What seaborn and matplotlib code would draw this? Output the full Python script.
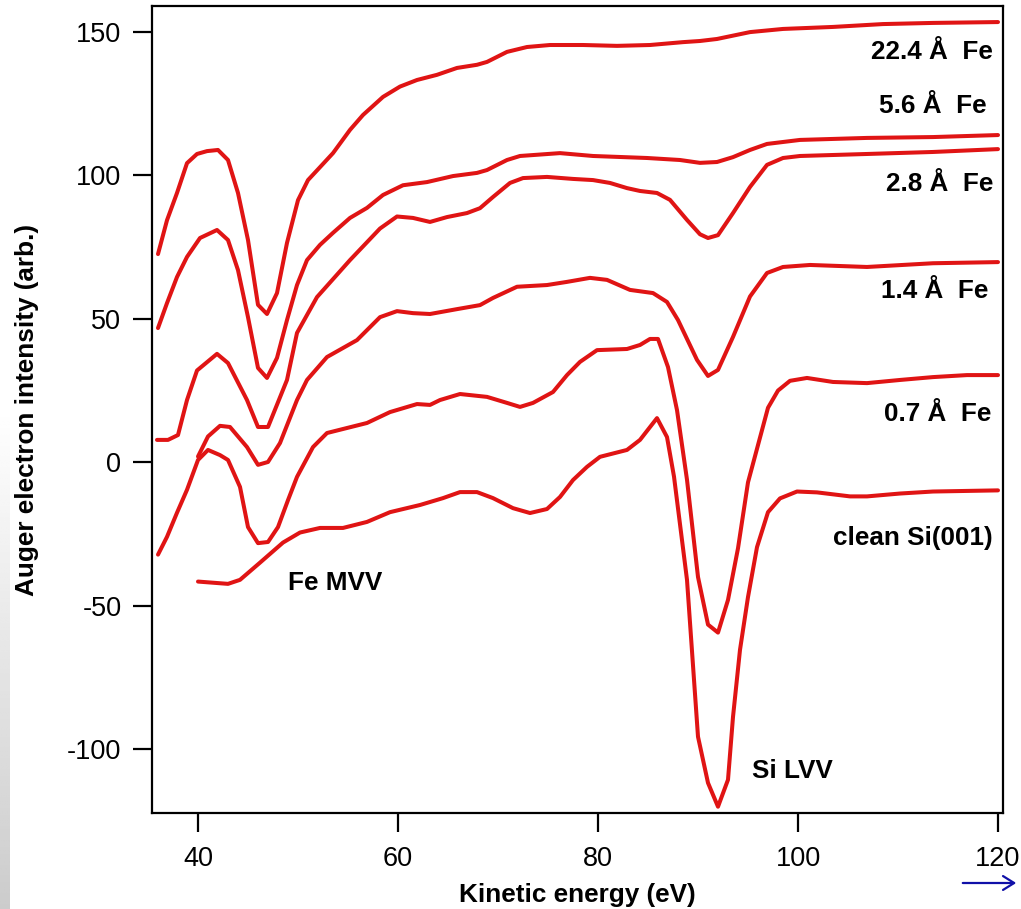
import numpy as np
import pandas as pd
import matplotlib
matplotlib.use("Agg")
import matplotlib.pyplot as plt
import seaborn as sns

# Auger spectra of Fe films on Si(001), vertically offset for clarity
fe224_x = [36.0, 36.9, 37.9, 38.9, 39.9, 40.9, 42.0, 43.0, 44.0, 45.0, 46.0, 46.9, 47.9, 48.9,
           50.0, 51.0, 52.2, 53.5, 55.2, 56.5, 58.5, 60.2, 61.9, 63.9, 65.9, 67.9, 68.9, 70.9,
           72.9, 75.2, 78.5, 81.9, 85.2, 88.5, 90.2, 91.9, 95.2, 98.5, 103.5, 108.5, 113.5, 120.0]
fe224_y = [72.6, 84.4, 93.9, 104.3, 107.5, 108.5, 108.9, 105.4, 93.9, 77.5, 54.9, 51.7, 59.0, 76.5,
           91.4, 98.4, 102.9, 107.8, 115.9, 121.1, 127.4, 131.0, 133.3, 135.1, 137.5, 138.6, 139.6, 143.1,
           144.8, 145.5, 145.5, 145.2, 145.5, 146.5, 146.9, 147.6, 150.0, 151.1, 151.8, 152.8, 153.2, 153.5]

fe56_x = [36.0, 36.9, 37.9, 38.9, 40.2, 41.9, 43.0, 44.0, 45.0, 46.0, 46.9, 47.9, 48.9, 49.9,
          50.9, 52.2, 53.5, 55.2, 56.9, 58.5, 60.5, 62.9, 65.5, 67.9, 68.9, 70.9, 72.2, 76.2,
          79.5, 84.9, 88.2, 90.2, 91.9, 93.5, 95.2, 96.9, 100.2, 106.9, 113.5, 120.0]
fe56_y = [46.8, 55.5, 64.6, 71.6, 78.2, 81.0, 77.5, 67.0, 50.6, 32.9, 29.4, 36.4, 49.6, 61.8,
          70.5, 75.8, 80.0, 85.2, 88.7, 93.2, 96.6, 97.7, 99.8, 100.9, 101.9, 105.4, 106.8, 107.8,
          106.8, 106.1, 105.4, 104.4, 104.7, 106.4, 108.9, 111.0, 112.4, 113.1, 113.4, 114.1]

fe28_x = [35.9, 37.0, 38.0, 38.9, 39.9, 41.9, 43.0, 44.9, 46.0, 47.0, 48.9, 49.9, 51.9, 55.2,
          58.2, 59.9, 61.5, 63.2, 64.9, 66.9, 68.2, 69.5, 71.2, 72.5, 74.9, 77.5, 79.5, 81.2,
          82.9, 84.2, 85.9, 87.2, 88.9, 90.2, 91.0, 92.0, 93.5, 95.2, 96.9, 98.5, 100.2, 106.9,
          113.5, 120.0]
fe28_y = [7.8, 7.8, 9.5, 21.7, 32.0, 37.8, 34.6, 21.7, 12.3, 12.3, 28.7, 45.1, 57.6, 70.5,
          81.5, 85.7, 85.2, 83.8, 85.5, 86.9, 88.6, 92.5, 97.4, 99.1, 99.5, 98.8, 98.4, 97.4,
          95.6, 94.6, 93.9, 91.5, 84.5, 79.5, 78.2, 79.2, 86.9, 96.0, 103.7, 106.1, 106.8, 107.5,
          108.2, 109.2]

fe14_x = [40.0, 41.0, 42.2, 43.2, 44.9, 46.0, 47.0, 48.2, 49.9, 50.9, 52.9, 55.9, 58.2, 59.9,
          61.5, 63.2, 65.9, 68.2, 69.5, 71.9, 74.9, 76.9, 79.2, 80.9, 83.2, 85.5, 86.9, 88.0,
          89.9, 91.0, 92.0, 93.5, 95.2, 96.9, 98.5, 101.2, 106.9, 113.5, 120.0]
fe14_y = [2.0, 9.0, 12.7, 12.3, 5.3, -0.9, 0.1, 6.7, 21.7, 28.7, 36.7, 42.6, 50.6, 52.7,
          52.0, 51.7, 53.4, 54.8, 57.3, 61.2, 61.8, 62.9, 64.3, 63.6, 60.1, 59.0, 55.9, 49.6,
          35.7, 30.1, 32.2, 43.7, 57.8, 66.0, 68.1, 68.8, 68.1, 69.4, 69.8]

fe07_x = [36.0, 36.9, 37.9, 38.9, 40.0, 41.0, 42.2, 43.0, 44.2, 45.0, 46.0, 47.0, 48.0, 49.0,
          49.9, 51.5, 52.9, 56.9, 59.2, 61.9, 63.2, 64.2, 66.2, 68.9, 70.9, 72.2, 73.5, 75.5,
          76.9, 78.2, 79.9, 82.9, 84.2, 85.2, 86.0, 87.0, 87.9, 88.9, 90.0, 91.0, 92.0, 93.0,
          94.0, 95.0, 96.0, 97.0, 98.0, 99.2, 100.9, 103.5, 106.9, 110.2, 113.5, 116.9, 120.0]
fe07_y = [-32.2, -26.0, -17.6, -9.6, 0.8, 4.3, 2.5, 0.8, -8.6, -22.6, -28.2, -27.8, -22.6, -13.2,
          -5.1, 5.3, 10.2, 13.7, 17.5, 20.3, 20.0, 21.7, 23.8, 22.8, 20.7, 19.3, 20.7, 24.5,
          30.4, 35.0, 39.1, 39.5, 40.9, 43.0, 43.0, 33.2, 18.2, -6.1, -40.0, -56.6, -59.4, -48.0,
          -30.0, -7.0, 6.0, 19.0, 25.0, 28.4, 29.4, 28.0, 27.6, 28.7, 29.7, 30.4, 30.4]

clean_x = [40.0, 43.0, 44.2, 46.2, 48.5, 50.2, 52.2, 54.5, 56.9, 59.2, 62.2, 64.5, 66.2, 67.9,
           69.5, 71.5, 73.2, 74.9, 76.2, 77.5, 78.9, 80.2, 82.9, 84.2, 85.9, 86.9, 87.6, 88.9,
           90.0, 91.0, 92.0, 93.0, 93.5, 94.2, 95.0, 95.9, 97.0, 98.2, 99.9, 101.9, 105.2, 106.9,
           110.2, 113.5, 120.0]
clean_y = [-41.6, -42.4, -41.0, -35.0, -28.0, -24.5, -22.9, -22.9, -20.8, -17.4, -14.9, -12.5, -10.4, -10.4,
           -12.5, -16.0, -17.7, -16.3, -12.1, -6.2, -1.6, 1.9, 4.3, 7.8, 15.4, 8.8, -5.0, -41.0,
           -95.7, -111.8, -120.1, -110.7, -88.8, -65.4, -47.0, -29.6, -17.4, -12.6, -10.2, -10.5, -11.9, -11.9,
           -10.9, -10.2, -9.8]

series_names = ["22.4 Å  Fe", "5.6 Å  Fe", "2.8 Å  Fe", "1.4 Å  Fe", "0.7 Å  Fe", "clean Si(001)"]
series_x = [fe224_x, fe56_x, fe28_x, fe14_x, fe07_x, clean_x]
series_y = [fe224_y, fe56_y, fe28_y, fe14_y, fe07_y, clean_y]

# label anchors (right edge, vertical centre) in data units
label_x = [119.5, 118.9, 119.5, 119.0, 119.3, 119.5]
label_y = [142.9, 124.2, 97.0, 59.7, 16.8, -26.4]

x_ticks = [40, 60, 80, 100, 120]
y_ticks = [-100, -50, 0, 50, 100, 150]

frames = []
for name, xs, ys in zip(series_names, series_x, series_y):
    frames.append(pd.DataFrame({"energy": xs, "intensity": ys, "film": name}))
df = pd.concat(frames, ignore_index=True)

sns.set_style("ticks")
plt.rcParams["font.family"] = ["Liberation Sans", "DejaVu Sans"]
plt.rcParams["axes.unicode_minus"] = False
plt.rcParams["text.color"] = "black"
plt.rcParams["axes.labelcolor"] = "black"
plt.rcParams["xtick.color"] = "black"
plt.rcParams["ytick.color"] = "black"

fig = plt.figure(figsize=(10.21, 9.09), dpi=100)
ax = fig.add_axes([152 / 1021, 1 - 813 / 909, (1003 - 152) / 1021, (813 - 6) / 909])

red = "#e01414"
sns.lineplot(data=df, x="energy", y="intensity", units="film", estimator=None,
             sort=False, color=red, linewidth=2.9, ax=ax, legend=False)

ax.set_xlim(35.4, 120.5)
ax.set_ylim(-122.3, 159.1)
ax.set_xticks(x_ticks)
ax.set_yticks(y_ticks)
ax.tick_params(axis="both", direction="out", length=14, width=1.6, labelsize=19.5,
               colors="black")
ax.tick_params(axis="x", pad=10)
ax.tick_params(axis="y", pad=8)
for side in ["left", "right", "top", "bottom"]:
    ax.spines[side].set_visible(True)
    ax.spines[side].set_linewidth(1.6)
    ax.spines[side].set_color("black")

ax.set_xlabel("Kinetic energy (eV)", fontsize=18.8, fontweight="bold", labelpad=8)
ax.set_ylabel("Auger electron intensity (arb.)", fontsize=18.8, fontweight="bold", labelpad=20)

for name, lx, ly in zip(series_names, label_x, label_y):
    ax.text(lx, ly, name, ha="right", va="center", fontsize=18.8, fontweight="bold")

ax.text(49.0, -42.1, "Fe MVV", ha="left", va="center", fontsize=18.8, fontweight="bold")
ax.text(95.4, -107.6, "Si LVV", ha="left", va="center", fontsize=18.8, fontweight="bold")

# navigation arrow in the lower right corner
fig.patches.append(matplotlib.patches.FancyArrowPatch(
    (960 / 1021, 1 - 883 / 909), (1019 / 1021, 1 - 883 / 909),
    transform=fig.transFigure, arrowstyle="->,head_length=8,head_width=5",
    color="#1010a8", linewidth=1.6, mutation_scale=1))

# soft grey edge along the left border
edge = fig.add_axes([0, 0, 9 / 1021, 1])
grad = np.linspace(0.0, 1.0, 256)
shade = 1.0 - 0.2 * np.clip((grad - 0.45) / 0.55, 0, 1)
edge.imshow(np.tile(shade[:, None], (1, 4)), cmap="gray", vmin=0, vmax=1,
            aspect="auto", extent=[0, 1, 0, 1], origin="upper")
edge.axis("off")

fig.savefig("out.png", dpi=100)
